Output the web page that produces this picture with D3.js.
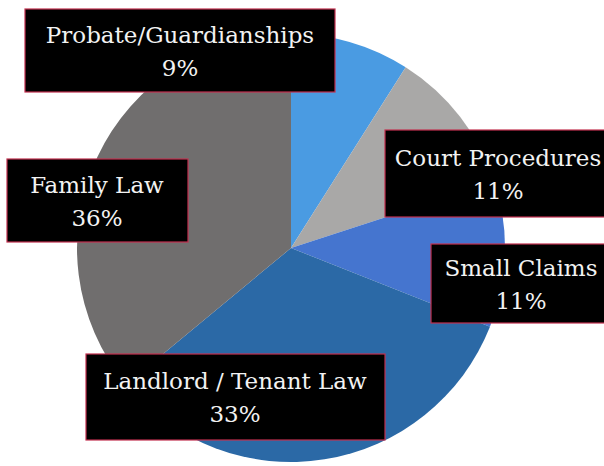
<!DOCTYPE html>
<html>
<head>
<meta charset="utf-8">
<script src="https://cdn.jsdelivr.net/npm/d3@7"></script>
<style>
  html, body { margin: 0; padding: 0; background: #ffffff; }
  svg { display: block; }
</style>
</head>
<body>
<script>
// ---- data ----
const categories = ["Probate/Guardianships", "Court Procedures", "Small Claims", "Landlord / Tenant Law", "Family Law"];
const values = [9, 11, 11, 33, 36];
const valueLabels = ["9%", "11%", "11%", "33%", "36%"];

// ---- styles / layout ----
const colors = ["#4a9be2", "#a9a8a7", "#4575cf", "#2b69a6", "#706e6e"];
const W = 604, H = 466;
const cx = 291, cy = 248, R = 214;
// label boxes: [x, y, w, h]
const boxes = [
  [25, 9, 310, 83],
  [385, 130, 226, 87],
  [431, 244, 180, 79],
  [86, 354, 299, 86],
  [7, 159, 181, 83]
];
const textCenters = [155, 113, 90, 149, 90];

const svg = d3.select("body").append("svg").attr("width", W).attr("height", H);

const pie = d3.pie().sort(null).value(d => d)(values);
const arc = d3.arc().innerRadius(0).outerRadius(R);

svg.append("g").attr("transform", `translate(${cx},${cy})`)
  .selectAll("path").data(pie).join("path")
  .attr("d", arc)
  .attr("fill", (d, i) => colors[i]);

const lab = svg.append("g").selectAll("g").data(categories).join("g")
  .attr("transform", (d, i) => `translate(${boxes[i][0]},${boxes[i][1]})`);

lab.append("rect")
  .attr("width", (d, i) => boxes[i][2])
  .attr("height", (d, i) => boxes[i][3])
  .attr("fill", "#000")
  .attr("stroke", "#c2304f")
  .attr("stroke-width", 1.2);

lab.append("text")
  .attr("x", (d, i) => textCenters[i])
  .attr("y", (d, i) => boxes[i][3] / 2 - 8)
  .attr("text-anchor", "middle")
  .attr("fill", "#f2f2f2")
  .style("font-family", "'DejaVu Serif', Georgia, serif")
  .style("font-size", "23px")
  .text(d => d);

lab.append("text")
  .attr("x", (d, i) => textCenters[i])
  .attr("y", (d, i) => boxes[i][3] / 2 + 25)
  .attr("text-anchor", "middle")
  .attr("fill", "#f2f2f2")
  .style("font-family", "'DejaVu Serif', Georgia, serif")
  .style("font-size", "23px")
  .text((d, i) => valueLabels[i]);
</script>
</body>
</html>
